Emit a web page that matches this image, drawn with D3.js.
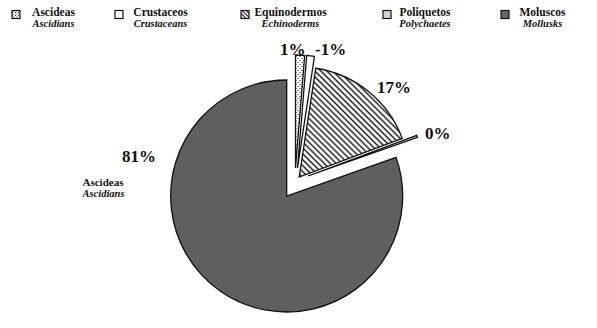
<!DOCTYPE html>
<html><head><meta charset="utf-8">
<script src="https://cdn.jsdelivr.net/npm/d3@7"></script>
<style>
html,body{margin:0;padding:0;background:#fff;}svg{display:block;}
svg text{font-family:"Liberation Serif","DejaVu Serif","Times New Roman",Times,serif;}
</style>
</head><body>
<svg id="chart" width="597" height="328"></svg>
<script>
// ---- data ----
const categories   = ["Ascideas", "Crustaceos", "Equinodermos", "Poliquetos", "Moluscos"];
const categoriesEn = ["Ascidians", "Crustaceans", "Echinoderms", "Polychaetes", "Mollusks"];
const values       = [1.3, 1.1, 16.9, 0.3, 80.4];
const pctLabels    = ["1%", "-1%", "17%", "0%", "81%"];

// ---- layout / style ----
const W = 597, H = 328;
const cx = 286.7, cy = 196;
const fills = ["url(#dots)", "#ffffff", "url(#hatch)", "#d2d2d2", "#5f5f5f"];
const legendFills = ["url(#dotsL)", "#ffffff", "url(#hatchL)", "#d2d2d2", "#666666"];
const explode = [[8.8, -28], [10.8, -28], [12.5, -19], [21.3, -20], [0, 0]];
const radii = [113, 113, 110, 116, 116];
const labelPos = [[280, 55], [315, 55], [377, 93], [425, 139], [122, 162]];
const legendIconX = [12, 115, 241, 383, 501];
const legendTextX = [53.5, 160.5, 290.5, 425, 542.5];

const svg = d3.select("#chart");
const defs = svg.append("defs");

function dotPattern(id, size) {
  const p = defs.append("pattern").attr("id", id).attr("patternUnits", "userSpaceOnUse")
    .attr("width", size).attr("height", size);
  p.append("rect").attr("width", size).attr("height", size).attr("fill", "#fff");
  p.append("rect").attr("x", 0).attr("y", 0).attr("width", 1).attr("height", 1).attr("fill", "#222");
  p.append("rect").attr("x", size / 2).attr("y", size / 2).attr("width", 1).attr("height", 1).attr("fill", "#222");
}
dotPattern("dots", 4);
dotPattern("dotsL", 3);
function hatchPattern(id, size, sw) {
  const p = defs.append("pattern").attr("id", id).attr("patternUnits", "userSpaceOnUse")
    .attr("width", size).attr("height", size).attr("patternTransform", "rotate(45)");
  p.append("rect").attr("width", size).attr("height", size).attr("fill", "#fff");
  p.append("line").attr("x1", 0).attr("x2", size).attr("y1", size / 2).attr("y2", size / 2)
    .attr("stroke", "#111").attr("stroke-width", sw);
}
hatchPattern("hatch", 4.2, 1.4);
hatchPattern("hatchL", 2.8, 1.1);

// ---- pie ----
const pie = d3.pie().sort(null).value(d => d).startAngle(0).endAngle(2 * Math.PI);
const arcs = pie(values);

const g = svg.append("g").attr("transform", `translate(${cx},${cy})`);
const order = [4, 0, 1, 2, 3];
order.forEach(i => {
  const a = arcs[i];
  const arc = d3.arc().innerRadius(0).outerRadius(radii[i]);
  g.append("path")
    .attr("d", arc(a))
    .attr("transform", `translate(${explode[i][0]},${explode[i][1]})`)
    .attr("fill", fills[i])
    .attr("stroke", "#111")
    .attr("stroke-width", 1.3)
    .attr("stroke-linejoin", "miter");
});

// percentage labels
svg.append("g").selectAll("text").data(pctLabels).join("text")
  .attr("x", (d, i) => labelPos[i][0])
  .attr("y", (d, i) => labelPos[i][1])
  .style("font-weight", "bold")
  .style("font-size", "17px")
  .attr("fill", "#111")
  .text(d => d);

// label beside the 81%
const side = svg.append("g").attr("fill", "#111");
side.append("text").attr("x", 82.5).attr("y", 185.5).style("font-weight", "bold").style("font-size", "11px").text(categories[0]);
side.append("text").attr("x", 82.5).attr("y", 196.5).style("font-style", "italic").style("font-weight", "bold").style("font-size", "10.5px").text(categoriesEn[0]);

// ---- legend ----
const leg = svg.append("g").attr("fill", "#111");
categories.forEach((c, i) => {
  leg.append("rect").attr("x", legendIconX[i]).attr("y", 10.5).attr("width", 8).attr("height", 8)
    .attr("fill", legendFills[i]).attr("stroke", "#111").attr("stroke-width", 1.2);
  leg.append("text").attr("x", legendTextX[i]).attr("y", 16).attr("text-anchor", "middle")
    .style("font-weight", "bold").style("font-size", "11.5px").text(c);
  leg.append("text").attr("x", legendTextX[i]).attr("y", 27).attr("text-anchor", "middle")
    .style("font-style", "italic").style("font-weight", "bold").style("font-size", "10.5px").text(categoriesEn[i]);
});
</script>
</body></html>
